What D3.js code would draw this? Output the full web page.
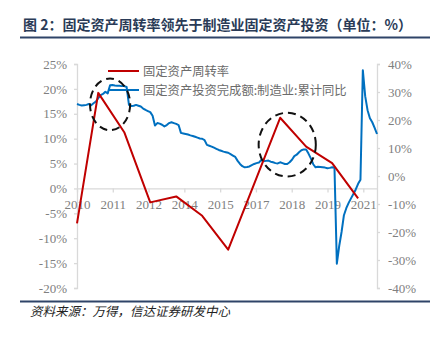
<!DOCTYPE html>
<html><head><meta charset="utf-8">
<script src="https://cdn.jsdelivr.net/npm/d3@7"></script>
<style>
html,body{margin:0;padding:0;background:#fff;}
svg{display:block;}
</style></head>
<body><svg id="c" width="444" height="337"></svg>
<script>
// ---- data ----
const titleText = "图 2：固定资产周转率领先于制造业固定资产投资（单位：%）";
const sourceText = "资料来源：万得，信达证券研发中心";
const seriesNames = ["固定资产周转率", "固定资产投资完成额:制造业:累计同比"];
const xTickLabels = ["2010","2011","2012","2014","2015","2017","2018","2019","2021"];
const leftTicks = [25,20,15,10,5,0,-5,-10,-15,-20];
const rightTicks = [40,30,20,10,0,-10,-20,-30,-40];

// blue: monthly cumulative yoy (Feb..Dec each year, no January), starting 2010-02
const blueStart = "2010-02";
const blueValues = [
  25.7,25.4,25.2,25.3,25.4,25.7,25.3,26.0,26.6,27.8,28.9,          // 2010
  29.3,30.1,29.5,32.4,32.5,32.3,32.2,32.2,32.1,32.1,31.8,          // 2011
  25.4,25.0,25.1,25.4,25.1,24.8,24.1,23.6,23.2,22.8,21.5,          // 2012
  18.0,18.9,18.7,18.3,17.7,18.2,18.9,19.2,18.9,18.6,18.2,          // 2013
  15.4,15.2,15.0,14.8,14.5,14.3,14.0,13.7,13.4,13.3,12.8,          // 2014
  11.1,10.8,10.5,10.1,9.7,9.3,9.0,8.7,8.5,8.3,7.8,                 // 2015
  7.3,6.8,5.4,4.3,3.5,3.1,3.2,3.4,3.9,4.3,4.6,                     // 2016
  4.8,5.7,5.3,5.4,5.5,5.1,4.9,4.6,4.5,4.9,4.6,                     // 2017
  4.3,4.3,4.9,5.8,7.1,7.6,8.5,9.2,9.5,9.5,8.0,                     // 2018
  6.3,4.2,3.1,3.3,3.2,3.1,3.0,2.8,2.9,3.1,3.0,                     // 2019
  -31.3,-25.0,-20.0,-14.0,-11.5,-9.6,-8.0,-6.4,-4.8,-2.8,-1.3,     // 2020
  37.8,28.5,23.5,20.6,19.2,17.2,15.0                               // 2021
];

// red: fixed asset turnover (left axis)
const redPeriods = ["2010-02","2010-11","2011-11","2012-11","2013-11","2014-11","2015-11","2016-11","2017-11","2018-11","2019-11","2020-11"];
const redValues  = [-7.0, 19.2, 11.3, -2.8, -1.6, -5.5, -12.3, 0.9, 14.2, 8.4, 5.1, -2.0];

// annotation ellipses (center period, center value on left axis, half-width in months, half-height in %)
const ringCenters = ["2011-05","2018-03"];
const ringValues = [16.9, 8.8];
const ringHalfW = [8.5, 12.1];
const ringHalfH = [5.2, 6.4];

// ---- helpers ----
function idx(p){ const [y,m]=p.split("-").map(Number); return (y-2010)*11 + (m-2); }
const s0 = idx(blueStart);
const blue = blueValues.map((v,i)=>({i:s0+i, v}));
const red = redPeriods.map((p,i)=>({i:idx(p), v:redValues[i]}));

const svg = d3.select("#c");
const x = d3.scaleLinear().domain([0,127]).range([77,377]);
const yL = d3.scaleLinear().domain([-20,25]).range([288,64]);
const yR = d3.scaleLinear().domain([-40,40]).range([288,64]);

const axisColor = "#d9d9d9", labelColor = "#808080";
const serif = "'Liberation Serif','Times New Roman',serif";
const cjk = "'Noto Sans CJK SC','Noto Sans CJK JP',sans-serif";

// title
svg.append("text").attr("x",23).attr("y",30).text(titleText)
  .style("font-family",cjk).attr("font-size",14).attr("font-weight","bold").attr("fill","#2a3b57");
svg.append("line").attr("x1",20).attr("x2",430).attr("y1",37.5).attr("y2",37.5).attr("stroke","#2f4468").attr("stroke-width",2);
svg.append("line").attr("x1",20).attr("x2",430).attr("y1",301.5).attr("y2",301.5).attr("stroke","#2f4468").attr("stroke-width",2);
svg.append("text").attr("x",30).attr("y",316).text(sourceText)
  .style("font-family",cjk).attr("font-size",12.5).attr("font-style","italic").attr("fill","#222");

function styleAxis(g){
  g.attr("font-family",null).attr("font-size",null);
  g.select(".domain").attr("stroke",axisColor).attr("stroke-width",1.3);
  g.selectAll(".tick line").attr("stroke",axisColor).attr("stroke-width",1.3);
  g.selectAll(".tick text").attr("fill",labelColor).style("font-family",serif).style("font-size","13px");
}
const gl = svg.append("g").attr("transform","translate(77,0)")
  .call(d3.axisLeft(yL).tickValues(leftTicks).tickFormat(d=>d+"%").tickSize(3).tickPadding(7));
styleAxis(gl);
const gr = svg.append("g").attr("transform","translate(377,0)")
  .call(d3.axisRight(yR).tickValues(rightTicks).tickFormat(d=>d+"%").tickSize(3).tickPadding(8));
styleAxis(gr);
const step = 121.2/(xTickLabels.length-1);
const gx = svg.append("g").attr("transform",`translate(0,${yL(0)})`)
  .call(d3.axisBottom(x).tickValues(xTickLabels.map((_,i)=>i*step)).tickFormat((d,i)=>xTickLabels[i]).tickSizeInner(4).tickSizeOuter(0).tickPadding(7));
styleAxis(gx);

// lines
svg.append("path").datum(blue).attr("fill","none").attr("stroke","#0070c0").attr("stroke-width",2)
  .attr("stroke-linejoin","round")
  .attr("d", d3.line().x(d=>x(d.i)).y(d=>yR(d.v)));
svg.append("path").datum(red).attr("fill","none").attr("stroke","#c00000").attr("stroke-width",2)
  .attr("stroke-linejoin","round")
  .attr("d", d3.line().x(d=>x(d.i)).y(d=>yL(d.v)));

// legend
const legColors = ["#c00000","#0070c0"];
seriesNames.forEach((n,i)=>{
  const yy = 71 + i*19;
  svg.append("line").attr("x1",108).attr("x2",139).attr("y1",yy).attr("y2",yy).attr("stroke",legColors[i]).attr("stroke-width",2);
  svg.append("text").attr("x",143).attr("y",yy+4.5).text(n).style("font-family",cjk).attr("font-size",12.3).attr("fill","#6b6b6b");
});

// dashed rings
ringCenters.forEach((p,i)=>{
  const cx = x(idx(p)), cy = yL(ringValues[i]);
  svg.append("ellipse").attr("cx",cx).attr("cy",cy)
    .attr("rx", x(ringHalfW[i]) - x(0)).attr("ry", yL(0) - yL(ringHalfH[i]))
    .attr("fill","none").attr("stroke","#111").attr("stroke-width",2).attr("stroke-dasharray","8,5");
});
</script></body></html>
